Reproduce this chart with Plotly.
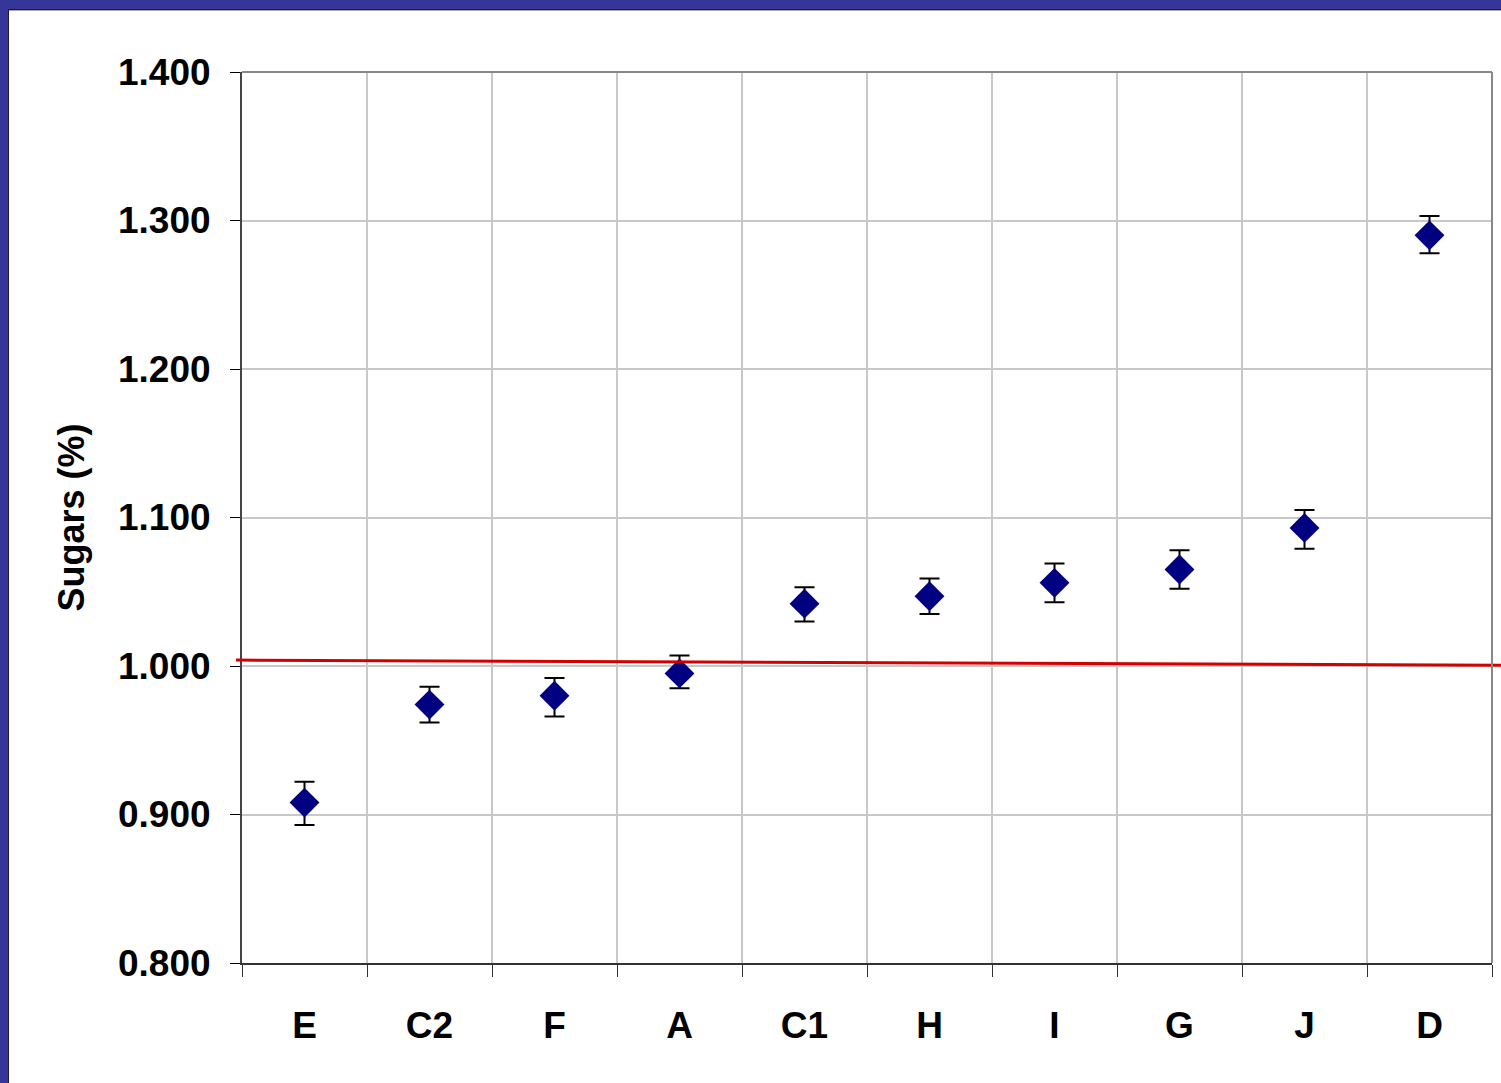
import plotly.graph_objects as go

# ---- data ----
categories = ["E", "C2", "F", "A", "C1", "H", "I", "G", "J", "D"]
sugars_mean = [0.908, 0.974, 0.980, 0.995, 1.042, 1.047, 1.056, 1.065, 1.093, 1.290]
err_plus = [0.014, 0.012, 0.012, 0.012, 0.011, 0.012, 0.013, 0.013, 0.012, 0.013]
err_minus = [0.015, 0.012, 0.014, 0.010, 0.012, 0.012, 0.013, 0.013, 0.014, 0.012]
ref_line_start = 1.004
ref_line_end = 1.0005
y_tick_vals = [0.8, 0.9, 1.0, 1.1, 1.2, 1.3, 1.4]

# ---- layout geometry (pixels) ----
W, H = 1501, 1083
L, R, T, B = 242, 9, 72, 120
PW = W - L - R
PH = H - T - B


def px_x(px):
    return (px - L) / PW


def px_y(py):
    return 1 - (py - T) / PH


FONT = "Liberation Sans, Arial, sans-serif"
BLUE = "#363699"

fig = go.Figure()
fig.add_trace(go.Scatter(
    x=categories, y=sugars_mean, mode="markers",
    marker=dict(symbol="diamond", size=23, color="#000080",
                line=dict(width=0)),
    error_y=dict(type="data", symmetric=False, array=err_plus,
                 arrayminus=err_minus, color="black", thickness=2, width=10),
    showlegend=False,
))

shapes = [
    # reference red line
    dict(type="line", xref="paper", yref="y", x0=px_x(236), x1=px_x(1501),
         y0=ref_line_start, y1=ref_line_end,
         line=dict(color="#d40000", width=3), layer="above"),
    # top & right frame (gray)
    dict(type="line", xref="paper", yref="paper", x0=0, x1=1, y0=1, y1=1,
         line=dict(color="#888888", width=2)),
    dict(type="line", xref="paper", yref="paper", x0=1, x1=1, y0=0, y1=1,
         line=dict(color="#888888", width=2)),
    # blue slide border top
    dict(type="rect", xref="paper", yref="paper", x0=px_x(0), x1=px_x(W),
         y0=px_y(9), y1=px_y(-5), fillcolor=BLUE, line=dict(width=0)),
    dict(type="line", xref="paper", yref="paper", x0=px_x(8), x1=px_x(W),
         y0=px_y(9.5), y1=px_y(9.5), line=dict(color="#1a1a40", width=1)),
    dict(type="line", xref="paper", yref="paper", x0=px_x(9), x1=px_x(W),
         y0=px_y(10.5), y1=px_y(10.5), line=dict(color="#aaaaaa", width=1)),
    # blue slide border left
    dict(type="rect", xref="paper", yref="paper", x0=px_x(-5), x1=px_x(8),
         y0=px_y(H + 5), y1=px_y(0), fillcolor=BLUE, line=dict(width=0)),
    dict(type="line", xref="paper", yref="paper", x0=px_x(8.5), x1=px_x(8.5),
         y0=px_y(H), y1=px_y(9.5), line=dict(color="#1a1a40", width=1)),
]

fig.update_layout(
    width=W, height=H,
    margin=dict(l=L, r=R, t=T, b=B),
    paper_bgcolor="white", plot_bgcolor="white",
    font=dict(family=FONT, color="black"),
    shapes=shapes,
    xaxis=dict(
        type="category", tickson="boundaries", range=[-0.5, 9.5],
        showgrid=True, gridcolor="#c8c8c8", gridwidth=2,
        showline=True, linecolor="#333333", linewidth=2,
        ticks="outside", ticklen=12, tickcolor="#333333", tickwidth=1,
        tickfont=dict(size=37, family=FONT, weight="bold"),
        ticklabelstandoff=29,
        zeroline=False,
    ),
    yaxis=dict(
        range=[0.8, 1.4], tickvals=y_tick_vals, tickformat=".3f",
        showgrid=True, gridcolor="#c8c8c8", gridwidth=2,
        showline=True, linecolor="#444444", linewidth=2,
        ticks="outside", ticklen=10, tickcolor="black", tickwidth=1,
        tickfont=dict(size=37, family=FONT, weight="bold"),
        ticklabelstandoff=12,
        zeroline=False,
        title=dict(text="Sugars (%)", font=dict(size=36, family=FONT, weight="bold"),
                   standoff=22),
    ),
)

fig.write_html("out.html", config={"displayModeBar": False},
               post_script="document.body.style.margin='0px';document.body.style.overflow='hidden';")
